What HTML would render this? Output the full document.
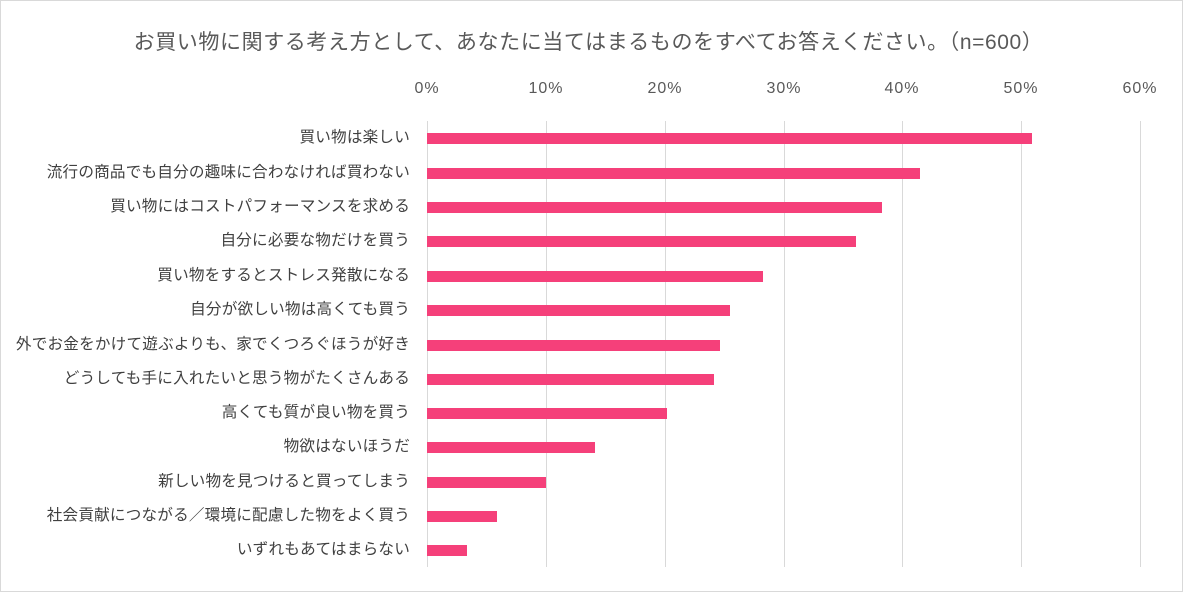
<!DOCTYPE html>
<html><head><meta charset="utf-8"><style>
body{margin:0;width:1183px;height:592px;background:#fff;font-family:"Liberation Sans","Noto Sans CJK JP",sans-serif;position:relative;overflow:hidden}
.frame{position:absolute;left:0;top:0;width:1181px;height:590px;border:1px solid #d9d9d9}
.t{position:absolute;top:26px;left:-3px;width:1183px;text-align:center;font-size:21px;letter-spacing:0.6px;color:#595959}
.g{position:absolute;top:121px;height:446px;width:1px;background:#d9d9d9}
.x{position:absolute;top:80px;font-size:16px;letter-spacing:1px;color:#595959;width:60px;text-align:center;margin-left:-30px}
.l{position:absolute;right:773px;font-size:15.6px;letter-spacing:0.2px;color:#404040;white-space:nowrap;line-height:20px}
.b{position:absolute;left:427px;height:11px;background:#f5407a}
</style></head><body><div class="frame"></div>
<div class="t">お買い物に関する考え方として、あなたに当てはまるものをすべてお答えください。（n=600）</div>
<div class="g" style="left:427px"></div><div class="g" style="left:546px"></div><div class="g" style="left:665px"></div><div class="g" style="left:784px"></div><div class="g" style="left:902px"></div><div class="g" style="left:1021px"></div><div class="g" style="left:1140px"></div>
<div class="x" style="left:427px">0%</div><div class="x" style="left:546px">10%</div><div class="x" style="left:665px">20%</div><div class="x" style="left:784px">30%</div><div class="x" style="left:902px">40%</div><div class="x" style="left:1021px">50%</div><div class="x" style="left:1140px">60%</div>
<div class="l" style="top:128px">買い物は楽しい</div><div class="b" style="top:133px;width:605px"></div>
<div class="l" style="top:163px">流行の商品でも自分の趣味に合わなければ買わない</div><div class="b" style="top:168px;width:493px"></div>
<div class="l" style="top:197px">買い物にはコストパフォーマンスを求める</div><div class="b" style="top:202px;width:455px"></div>
<div class="l" style="top:231px">自分に必要な物だけを買う</div><div class="b" style="top:236px;width:429px"></div>
<div class="l" style="top:266px">買い物をするとストレス発散になる</div><div class="b" style="top:271px;width:336px"></div>
<div class="l" style="top:300px">自分が欲しい物は高くても買う</div><div class="b" style="top:305px;width:303px"></div>
<div class="l" style="top:335px">外でお金をかけて遊ぶよりも、家でくつろぐほうが好き</div><div class="b" style="top:340px;width:293px"></div>
<div class="l" style="top:369px">どうしても手に入れたいと思う物がたくさんある</div><div class="b" style="top:374px;width:287px"></div>
<div class="l" style="top:403px">高くても質が良い物を買う</div><div class="b" style="top:408px;width:240px"></div>
<div class="l" style="top:437px">物欲はないほうだ</div><div class="b" style="top:442px;width:168px"></div>
<div class="l" style="top:472px">新しい物を見つけると買ってしまう</div><div class="b" style="top:477px;width:119px"></div>
<div class="l" style="top:506px">社会貢献につながる／環境に配慮した物をよく買う</div><div class="b" style="top:511px;width:70px"></div>
<div class="l" style="top:540px">いずれもあてはまらない</div><div class="b" style="top:545px;width:40px"></div>
</body></html>
